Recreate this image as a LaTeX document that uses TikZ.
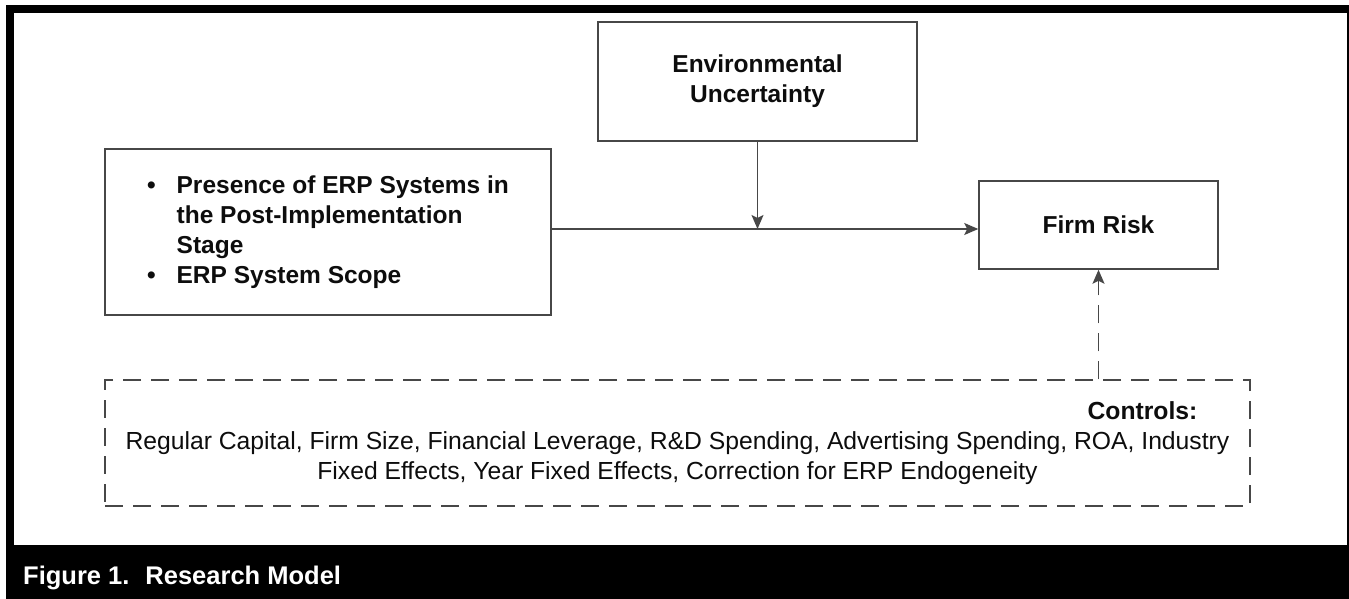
\documentclass[tikz,border=0pt]{standalone}
\usepackage{fontspec}
\setmainfont{Liberation Sans}
\usetikzlibrary{arrows.meta,positioning}
\tikzset{
  box/.style={draw=black!72,line width=1.5pt,inner sep=0pt,align=center,
    text=black!95,font=\bfseries\fontsize{24.5}{30}\selectfont},
  ctrlbox/.style={box,font=\fontsize{24.7}{30}\selectfont,dash pattern=on 18pt off 10pt},
  link/.style={draw=black!72,line width=1.5pt,-{Stealth[length=14pt,width=12pt,inset=3pt]}},
}

\begin{document}
\begin{tikzpicture}[x=1pt,y=-1pt]
%%%%% frame and caption:
\useasboundingbox (0,0) rectangle (1349,599);
\fill[black] (6,5) rectangle (1349,599);
\fill[white] (14,13) rectangle (1347,545);
\node[anchor=base west,inner sep=0pt,text=white,font=\bfseries\fontsize{25.5}{30}\selectfont] (caption) at (23,584) {Figure 1.\hspace{16pt}Research Model};
%%%%% boxes:
\node[box,minimum width=319pt,minimum height=119pt] (env) at (757.5,81.5) {Environmental\\Uncertainty};
\node[box,minimum width=446pt,minimum height=166pt] (erp) at (328,232) {%
  \begin{tabular}{@{}l@{\hspace{21pt}}l@{}}
  \textbullet & Presence of ERP Systems in\\
              & the Post-Implementation\\
              & Stage\\
  \textbullet & ERP System Scope
  \end{tabular}};
\node[box,minimum width=239pt,minimum height=88pt] (risk) at (1098.5,225) {Firm Risk};
\node[ctrlbox,minimum width=1145pt,minimum height=126pt] (ctrl) at (677.5,443) {%
  \begin{tabular}{@{}c@{}}
  \multicolumn{1}{@{}r@{}}{\bfseries Controls:\hspace*{32pt}}\\
  Regular Capital, Firm Size, Financial Leverage, R\&D Spending, Advertising Spending, ROA, Industry\\
  Fixed Effects, Year Fixed Effects, Correction for ERP Endogeneity
  \end{tabular}};
%%%%% arrows:
\coordinate (erpout) at ([yshift=3pt]erp.east);
\draw[link] (erpout) -- ([yshift=-4pt]risk.west);
\draw[link] (env.south) -- (env.south |- erpout);
\draw[link,dash pattern=on 18pt off 10pt] (ctrl.north -| risk.south) -- (risk.south);
\end{tikzpicture}
\end{document}
